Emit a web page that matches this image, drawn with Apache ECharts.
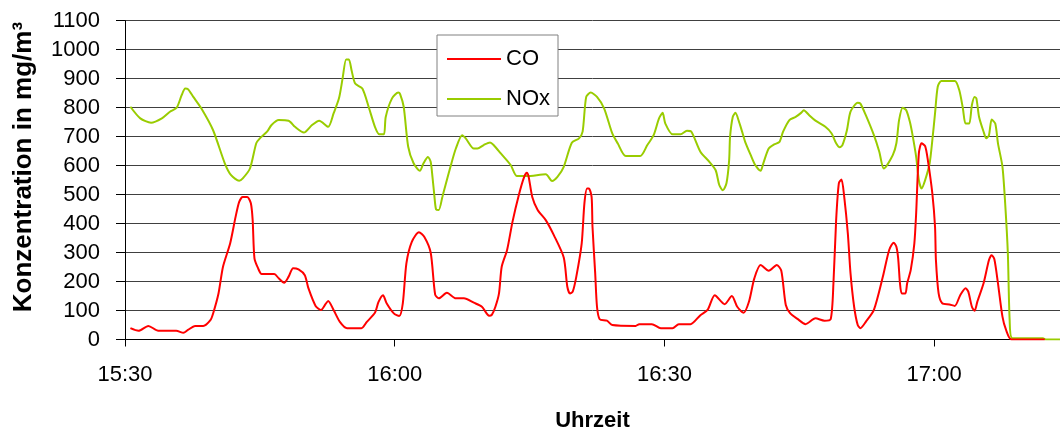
<!DOCTYPE html>
<html>
<head>
<meta charset="utf-8">
<script src="https://cdn.jsdelivr.net/npm/echarts@6/dist/echarts.min.js"></script>
<style>
  html, body { margin: 0; padding: 0; background: #fff; }
  #chart { width: 1060px; height: 435px; }
</style>
</head>
<body>
<div id="chart"></div>
<script>
// Minuten ab 15:30
const coTime = [0.6, 1.5, 2.6, 3.7, 5.7, 6.5, 7.0, 7.8, 8.7, 9.5, 9.8, 10.4, 10.9, 11.7, 12.3, 12.7, 13.1, 13.6, 14.0, 14.2, 14.4, 14.8, 15.2, 16.6, 17.1, 17.7, 18.2, 18.7, 19.3, 20.0, 20.4, 21.2, 21.8, 22.3, 22.6, 23.2, 23.9, 24.7, 26.3, 26.9, 27.8, 28.2, 28.7, 29.1, 29.9, 30.5, 30.9, 31.3, 31.9, 32.7, 33.3, 34.0, 34.5, 34.9, 35.8, 36.8, 37.7, 38.8, 39.7, 40.5, 40.8, 41.2, 41.6, 41.9, 42.5, 43.1, 43.8, 44.4, 44.7, 44.9, 45.3, 45.9, 46.8, 47.7, 48.8, 49.2, 49.5, 49.8, 50.2, 50.8, 51.1, 51.4, 51.6, 51.9, 52.0, 52.3, 52.5, 52.8, 53.6, 54.2, 56.8, 57.2, 58.6, 59.6, 60.9, 61.6, 62.9, 64.0, 64.8, 65.6, 66.7, 67.5, 68.1, 68.8, 69.4, 70.0, 70.7, 71.6, 72.5, 73.0, 73.5, 74.0, 74.8, 75.7, 76.8, 77.8, 78.5, 78.8, 79.1, 79.4, 79.7, 80.0, 80.4, 80.7, 81.1, 81.5, 81.8, 82.4, 83.3, 84.3, 85.0, 85.5, 85.8, 86.0, 86.2, 86.4, 86.8, 87.0, 87.4, 87.8, 88.0, 88.3, 88.6, 89.0, 89.3, 89.8, 90.1, 90.2, 90.5, 90.9, 91.7, 92.3, 92.9, 93.5, 93.8, 94.2, 94.5, 94.8, 95.5, 96.1, 96.4, 96.7, 97.1, 97.6, 98.0, 98.6, 102.3];
const coValues = [39, 30, 47, 30, 30, 23, 33, 47, 47, 67, 90, 159, 251, 332, 423, 475, 492, 492, 470, 412, 280, 246, 226, 226, 211, 196, 217, 246, 242, 222, 177, 116, 102, 122, 133, 102, 61, 39, 39, 61, 92, 130, 153, 125, 90, 81, 125, 263, 337, 370, 354, 300, 155, 142, 161, 142, 142, 127, 113, 82, 85, 113, 159, 251, 309, 406, 498, 561, 575, 561, 492, 447, 412, 360, 283, 182, 159, 165, 217, 332, 470, 521, 521, 492, 389, 228, 113, 70, 65, 50, 47, 53, 53, 39, 39, 53, 53, 84, 102, 153, 122, 150, 113, 92, 130, 211, 257, 237, 257, 237, 119, 90, 71, 53, 73, 65, 71, 194, 412, 539, 552, 492, 366, 228, 113, 50, 39, 61, 102, 217, 309, 334, 320, 280, 194, 159, 159, 194, 240, 332, 435, 642, 677, 667, 619, 504, 389, 274, 159, 125, 121, 116, 153, 177, 165, 113, 99, 130, 194, 274, 291, 277, 194, 79, 33, 0, 0];

const noxTime = [0.6, 1.7, 2.9, 4.1, 5.0, 5.75, 6.3, 6.7, 7.0, 7.6, 8.5, 9.8, 11.1, 11.8, 12.7, 13.1, 13.9, 14.6, 15.0, 15.8, 16.3, 17.1, 18.2, 18.9, 19.9, 20.8, 21.6, 22.6, 23.2, 23.8, 24.2, 24.6, 24.9, 25.2, 25.6, 26.4, 27.1, 27.8, 28.3, 28.8, 29.0, 29.7, 30.4, 30.6, 31.0, 31.5, 32.1, 32.8, 33.2, 33.7, 34.0, 34.2, 34.4, 34.6, 34.9, 35.3, 35.6, 36.2, 36.8, 37.5, 37.9, 38.8, 39.2, 39.9, 40.6, 41.0, 41.8, 42.9, 43.6, 44.7, 46.8, 47.5, 48.1, 48.8, 49.7, 50.5, 50.9, 51.3, 51.8, 52.5, 53.3, 54.2, 54.8, 55.7, 57.3, 58.1, 58.8, 59.4, 59.8, 60.1, 60.9, 61.8, 62.5, 63.0, 64.0, 65.0, 65.7, 66.1, 66.5, 66.9, 67.2, 67.3, 67.6, 67.9, 68.3, 68.7, 69.0, 69.6, 70.1, 70.7, 71.0, 71.6, 72.2, 72.8, 73.2, 73.9, 74.6, 75.2, 75.5, 76.1, 76.8, 77.9, 78.6, 79.1, 79.5, 79.8, 80.3, 80.7, 81.5, 81.8, 82.4, 83.3, 83.9, 84.4, 85.4, 85.8, 86.1, 86.5, 86.9, 87.3, 87.6, 88.0, 88.3, 88.6, 89.0, 89.5, 89.8, 90.1, 90.4, 90.8, 92.3, 92.8, 93.2, 93.5, 93.9, 94.2, 94.5, 94.7, 95.0, 95.5, 95.8, 96.1, 96.4, 96.8, 97.1, 97.6, 97.9, 98.2, 98.4, 98.7, 102.1, 102.4, 104];
const noxValues = [803, 763, 748, 763, 786, 800, 843, 866, 864, 837, 797, 722, 608, 567, 548, 556, 590, 677, 694, 717, 740, 757, 755, 734, 714, 740, 755, 734, 780, 832, 900, 966, 966, 929, 883, 866, 803, 734, 708, 708, 768, 832, 852, 847, 803, 665, 608, 582, 608, 630, 613, 561, 500, 449, 447, 492, 527, 596, 659, 705, 694, 659, 659, 671, 680, 671, 642, 602, 564, 564, 570, 547, 561, 596, 679, 694, 717, 837, 852, 837, 797, 711, 677, 633, 633, 671, 705, 763, 782, 745, 708, 708, 720, 717, 648, 613, 584, 533, 515, 539, 619, 699, 768, 782, 751, 711, 680, 636, 602, 582, 608, 659, 673, 682, 717, 757, 768, 782, 791, 774, 755, 734, 711, 677, 663, 671, 722, 786, 817, 814, 774, 705, 648, 590, 636, 677, 757, 800, 791, 751, 705, 630, 550, 521, 550, 608, 688, 780, 872, 892, 892, 860, 797, 745, 745, 809, 837, 832, 768, 717, 694, 705, 759, 745, 677, 596, 470, 297, 67, 4, 4, 0, 0];

const timeTicks = [0, 30, 60, 90];

const pairs = (t, v) => t.map((x, i) => [x, v[i]]);

const fmtTime = (m) => {
  const total = 15 * 60 + 30 + Math.round(m);
  const h = Math.floor(total / 60);
  const mm = total % 60;
  return h + ':' + (mm < 10 ? '0' : '') + mm;
};

const font = '"Liberation Sans", Arial, sans-serif';

const chart = echarts.init(document.getElementById('chart'));

const option = {
  backgroundColor: '#fff',
  animation: false,
  textStyle: { fontFamily: font, color: '#000' },
  grid: {
    left: 125,
    right: 0,
    top: 20.7,
    bottom: 95.5,
    containLabel: false,
    outerBoundsMode: 'none'
  },
  legend: {
    data: [
      { name: 'CO', icon: 'rect' },
      { name: 'NOx', icon: 'rect' }
    ],
    orient: 'vertical',
    left: 437,
    top: 35,
    itemWidth: 54,
    itemHeight: 2,
    itemGap: 18,
    padding: [13, 8, 6, 10],
    borderColor: '#808080',
    borderWidth: 1,
    backgroundColor: '#fff',
    textStyle: { fontFamily: font, fontSize: 22, color: '#000' }
  },
  xAxis: {
    type: 'value',
    min: 0,
    max: 104,
    interval: 30,
    name: 'Uhrzeit',
    nameLocation: 'middle',
    nameGap: 70,
    nameTextStyle: { fontFamily: font, fontSize: 22, fontWeight: 'bold', color: '#000' },
    axisLine: { lineStyle: { color: '#000', width: 1 } },
    axisTick: { show: true, length: 7, customValues: timeTicks, lineStyle: { color: '#000' } },
    axisLabel: {
      customValues: timeTicks,
      margin: 24,
      fontFamily: font,
      fontSize: 22,
      color: '#000',
      formatter: (v) => fmtTime(v)
    },
    splitLine: { show: false }
  },
  yAxis: {
    type: 'value',
    min: 0,
    max: 1100,
    interval: 100,
    name: 'Konzentration in mg/m³',
    nameLocation: 'middle',
    nameGap: 88,
    nameTextStyle: {
      fontFamily: font,
      fontSize: 26,
      fontWeight: 'bold',
      color: '#000',
      padding: [0, 0, 0, 26]
    },
    axisLine: { show: true, lineStyle: { color: '#000', width: 1 } },
    axisTick: { show: true, length: 9, lineStyle: { color: '#000' } },
    axisLabel: {
      margin: 25,
      fontFamily: font,
      fontSize: 22,
      color: '#000',
      formatter: (v) => String(v)
    },
    splitLine: { show: true, lineStyle: { color: '#404040', width: 1 } }
  },
  series: [
    {
      name: 'CO',
      type: 'line',
      data: pairs(coTime, coValues),
      symbol: 'none',
      smooth: 0.25,
      lineStyle: { color: '#FF0000', width: 2 },
      itemStyle: { color: '#FF0000' },
      z: 3
    },
    {
      name: 'NOx',
      type: 'line',
      data: pairs(noxTime, noxValues),
      symbol: 'none',
      smooth: 0.25,
      lineStyle: { color: '#99CC00', width: 2 },
      itemStyle: { color: '#99CC00' },
      z: 2
    }
  ]
};

chart.setOption(option);
</script>
</body>
</html>
